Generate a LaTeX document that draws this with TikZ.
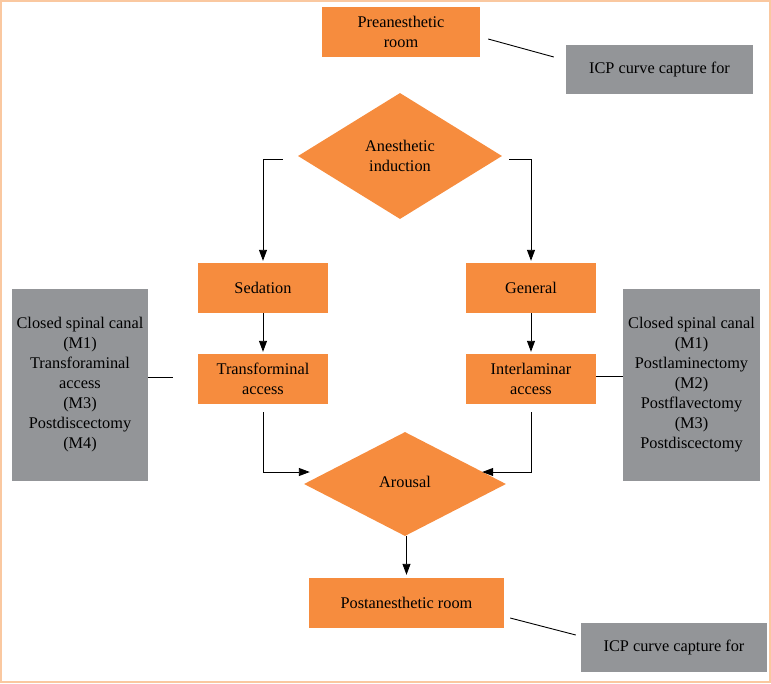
\documentclass[tikz,border=0pt]{standalone}
\usepackage{fontspec}
\setmainfont{Liberation Serif}
\usetikzlibrary{shapes.geometric,arrows.meta,calc}
\definecolor{boxorange}{RGB}{246,140,62}
\definecolor{boxgray}{RGB}{147,149,152}
\definecolor{framepeach}{RGB}{250,200,160}
\tikzset{
  obox/.style={fill=boxorange,draw=none,inner sep=0pt,align=center,font=\fontsize{16.3}{20}\selectfont},
  gbox/.style={fill=boxgray,draw=none,inner sep=0pt,align=center,font=\fontsize{16.3}{20}\selectfont},
  odia/.style={diamond,fill=boxorange,draw=none,inner sep=0pt,aspect=1.8,align=center,font=\fontsize{16.3}{20}\selectfont},
  conn/.style={line width=0.9pt,black},
  arr/.style={conn,-{Triangle[length=11pt,width=8pt]}}
}
\begin{document}
\begin{tikzpicture}[x=1pt,y=-1pt]
\useasboundingbox (0,0) rectangle (771,683);
\draw[framepeach,line width=2pt] (1,1) rectangle (770,682);

\node[obox,minimum width=158,minimum height=50] (pre) at (401,32) {Preanesthetic\\room};
\node[gbox,minimum width=187,minimum height=49] (icpT) at (659.5,69.5) {ICP curve capture for};
\node[odia,minimum width=204,minimum height=126] (ind) at (400,156) {\raisebox{-2pt}{\parbox{100pt}{\centering Anesthetic\\induction}}};
\node[obox,minimum width=130,minimum height=50] (sed) at (263,288) {Sedation};
\node[obox,minimum width=130,minimum height=50] (gen) at (531,288) {General};
\node[obox,minimum width=130,minimum height=50] (trans) at (263,379) {Transforminal\\access};
\node[obox,minimum width=130,minimum height=50] (inter) at (531,379) {Interlaminar\\access};
\node[gbox,minimum width=136,minimum height=192] (grayL) at (80,385) {Closed spinal canal\\(M1)\\Transforaminal\\access\\(M3)\\Postdiscectomy\\(M4)};
\node[gbox,minimum width=137,minimum height=192] (grayR) at (691.5,385) {Closed spinal canal\\(M1)\\Postlaminectomy\\(M2)\\Postflavectomy\\(M3)\\Postdiscectomy};
\node[odia,minimum width=202,minimum height=104] (aro) at (405,484) {\raisebox{4pt}{Arousal}};
\node[obox,minimum width=195,minimum height=50] (post) at (406.5,603) {Postanesthetic room};
\node[gbox,minimum width=186,minimum height=49] (icpB) at (674,647.5) {ICP curve capture for};

\coordinate (arL) at ($(aro.west)+(6,-12)$);
\coordinate (arR) at ($(aro.east)+(-24,-12)$);

\draw[conn] ($(pre.east)+(8,7)$) -- ($(icpT.west)+(-12,-12.5)$);
\draw[conn] ($(post.east)+(6,15)$) -- ($(icpB.west)+(-5,-12.5)$);
\draw[arr,shorten >=2pt] ($(ind.west)+(-15,3)$) -| (sed.north);
\draw[arr,shorten >=2pt] ($(ind.east)+(7,3)$) -| (gen.north);
\draw[arr,shorten >=2pt] (sed.south) -- (trans.north);
\draw[arr,shorten >=2pt] (gen.south) -- (inter.north);
\draw[arr] ($(trans.south)+(0,8)$) |- (arL);
\draw[arr] ($(inter.south)+(0,8)$) |- (arR);
\draw[arr,shorten >=3pt] (post.north |- aro.south) -- (post.north);
\draw[conn] ($(grayL.east)+(0,-8)$) -- ++(25,0);
\draw[conn] ($(inter.east)+(0,-3)$) -- ($(grayR.west)+(0,-9)$);
\end{tikzpicture}
\end{document}
